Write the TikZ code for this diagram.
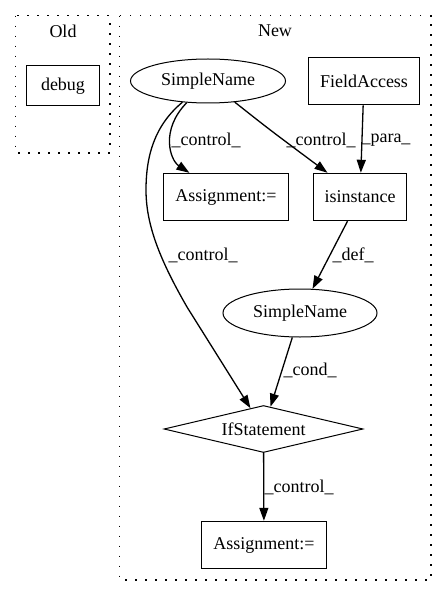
\documentclass[tikz,border=0pt]{standalone}
\usepackage{fontspec}
\setmainfont{Liberation Serif}
\usetikzlibrary{arrows.meta,shapes.geometric}
\begin{document}
\begin{tikzpicture}[x=1pt,y=-1pt,
  every node/.style={font=\fontsize{18}{20}\selectfont},
  cluster/.style={draw=black,line width=1.3pt,dash pattern=on 1.5pt off 8.5pt},
  boxnode/.style={draw,line width=1pt,rectangle,inner sep=0pt},
  ellnode/.style={draw,line width=1pt,ellipse,inner sep=0pt,minimum width=155pt,minimum height=44pt},
  diamnode/.style={draw,line width=1pt,diamond,aspect=4.2,inner sep=0pt,minimum width=199pt,minimum height=47pt},
  edge/.style={draw,line width=1.3pt,-{Triangle[length=13pt,width=9pt]}},
  lbl/.style={inner sep=0pt,anchor=center}]
\useasboundingbox (0,0) rectangle (447,596);
% clusters
\draw[cluster] (15.7,15.7) rectangle (110,153);
\node[lbl] (oldlbl) at (63,31) {Old};
\draw[cluster] (119.5,15.7) rectangle (431,580);
\node[lbl] (newlbl) at (275,31) {New};
% nodes
\node[boxnode,minimum width=72.3pt,minimum height=40pt] (debug) at (63,86) {debug};
\node[ellnode] (sn1) at (208,81) {SimpleName};
\node[boxnode,minimum width=110.3pt,minimum height=47.7pt] (fa) at (364,81) {FieldAccess};
\node[boxnode,minimum width=125.7pt,minimum height=47.4pt] (asg1) at (226,197) {Assignment:=};
\node[boxnode,minimum width=92.7pt,minimum height=47.4pt] (isi) at (360,197) {isinstance};
\node[ellnode,minimum width=154pt,minimum height=48pt] (sn2) at (300,313) {SimpleName};
\node[diamnode] (ifs) at (263.5,429) {IfStatement};
\node[boxnode,minimum width=125.7pt,minimum height=47.4pt] (asg2) at (264,545) {Assignment:=};
% waypoints of the long edge
\coordinate (w1) at (146,190);
\coordinate (w2) at (187,307);
% edges
\draw[edge] (sn1) .. controls (160,130) and (170,160) .. (asg1);
\node[lbl] (l1) at (206,140) {\_control\_};
\draw[edge] (sn1) .. controls (270,130) .. (isi);
\node[lbl] (l2) at (321,140) {\_control\_};
\draw[edge] (fa) -- (isi);
\node[lbl] (l3) at (386,140) {\_para\_};
\draw[edge] (sn1) .. controls (155,125) and (146,155) .. (w1)
  .. controls (146,225) and (160,260) .. (w2) -- (ifs);
\node[lbl] (l4) at (203,255) {\_control\_};
\draw[edge] (isi) -- (sn2);
\node[lbl] (l5) at (353,255) {\_def\_};
\draw[edge] (sn2) -- (ifs);
\node[lbl] (l6) at (310,370) {\_cond\_};
\draw[edge] (ifs) -- (asg2);
\node[lbl] (l7) at (299,487) {\_control\_};
\end{tikzpicture}
\end{document}
